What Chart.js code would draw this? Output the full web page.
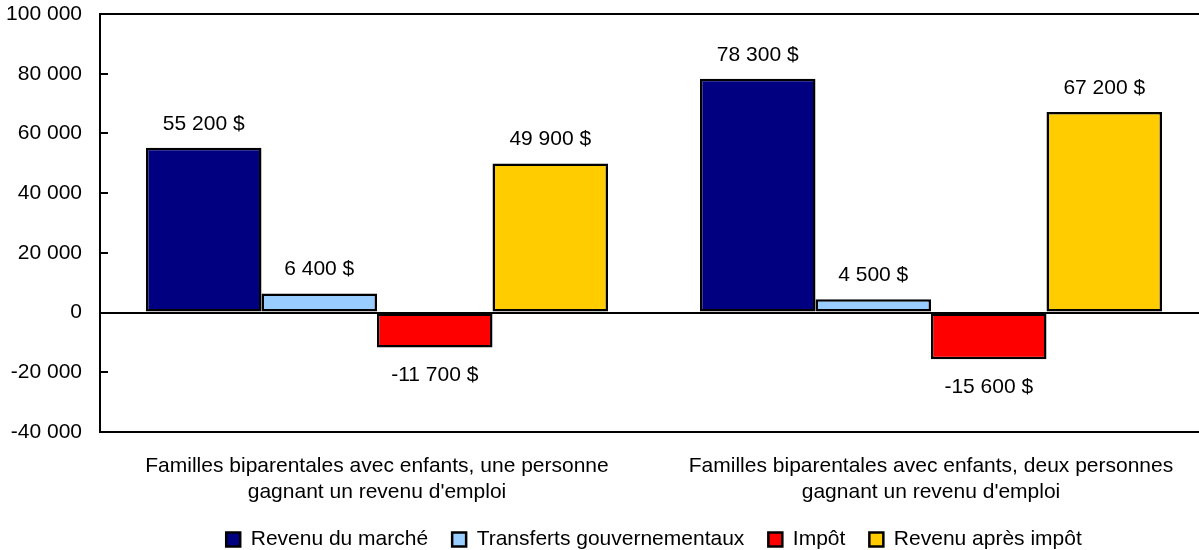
<!DOCTYPE html>
<html>
<head>
<meta charset="utf-8">
<script src="https://cdn.jsdelivr.net/npm/chart.js@4.4.1/dist/chart.umd.min.js"></script>
<style>
html,body{margin:0;padding:0;overflow:hidden;background:#fff;}
#wrap{width:1208px;height:550px;position:relative;}
</style>
</head>
<body>
<div id="wrap"><canvas id="c" width="1208" height="550"></canvas></div>
<script>
const categories = [
  ["Familles biparentales avec enfants, une personne", "gagnant un revenu d'emploi"],
  ["Familles biparentales avec enfants, deux personnes", "gagnant un revenu d'emploi"]
];
const seriesNames = ["Revenu du marché", "Transferts gouvernementaux", "Impôt", "Revenu après impôt"];
const revenuMarche = [55200, 78300];
const transferts = [6400, 4500];
const impot = [-11700, -15600];
const revenuApresImpot = [49900, 67200];
const seriesColors = ["#000080", "#99CCFF", "#FF0000", "#FFCC00"];
const yMin = -40000, yMax = 100000, yStep = 20000;

const FONT = "'Liberation Sans', Arial, sans-serif";
const FS = 21;

function grp(v){
  const s = String(Math.abs(v)).replace(/\B(?=(\d{3})+(?!\d))/g, " ");
  return (v < 0 ? "-" : "") + s;
}

const allSeries = [revenuMarche, transferts, impot, revenuApresImpot];

const labelPlugin = {
  id: 'valueLabels',
  afterDatasetsDraw(chart){
    const ctx = chart.ctx;
    ctx.save();
    ctx.font = FS + "px " + FONT;
    ctx.fillStyle = "#000";
    ctx.textAlign = "center";
    ctx.textBaseline = "middle";
    chart.data.datasets.forEach((ds, di) => {
      const meta = chart.getDatasetMeta(di);
      meta.data.forEach((bar, i) => {
        const v = ds.data[i];
        const txt = grp(v) + " $";
        const y = v >= 0 ? bar.y - 24 : bar.y + 28;
        ctx.fillText(txt, bar.x, y);
      });
    });
    ctx.restore();
  },
  afterDraw(chart){
    const ys = chart.scales.y;
    const ctx = chart.ctx;
    ctx.save();
    ctx.strokeStyle = "#000";
    ctx.lineWidth = 2;
    ys.ticks.forEach(t => {
      const py = Math.round(ys.getPixelForValue(t.value));
      ctx.beginPath();
      ctx.moveTo(chart.chartArea.left, py);
      ctx.lineTo(chart.chartArea.left + 8, py);
      ctx.stroke();
    });
    ctx.restore();
  }
};

new Chart(document.getElementById('c'), {
  type: 'bar',
  data: {
    labels: categories,
    datasets: allSeries.map((d, i) => ({
      label: seriesNames[i],
      data: d,
      backgroundColor: seriesColors[i],
      borderColor: "#000",
      borderWidth: 2.5,
      borderSkipped: false,
      barPercentage: 1,
      categoryPercentage: 0.834
    }))
  },
  options: {
    responsive: false,
    animation: false,
    devicePixelRatio: 1,
    layout: { padding: { top: 14, left: 0, right: 0, bottom: -10 } },
    plugins: {
      tooltip: { enabled: false },
      legend: {
        position: 'bottom',
        align: 'center',
        fullSize: false,
        labels: {
          font: { family: FONT, size: FS },
          color: "#000",
          boxWidth: 14,
          boxHeight: 14,
          padding: 24
        }
      }
    },
    scales: {
      x: {
        afterFit(scale){ scale.height = 73; },
        grid: { display: false, drawTicks: false },
        border: { display: true, color: "#000", width: 2 },
        ticks: {
          font: { family: FONT, size: FS, lineHeight: 1.2 },
          color: "#000",
          padding: 22,
          maxRotation: 0,
          autoSkip: false
        }
      },
      y: {
        min: yMin,
        max: yMax,
        afterFit(scale){ scale.width = 100; },
        grid: {
          drawTicks: true,
          tickLength: 18,
          tickColor: "rgba(0,0,0,0)",
          color: c => (c.tick && (c.tick.value === yMax || c.tick.value === 0)) ? "#000" : "rgba(0,0,0,0)",
          lineWidth: 2
        },
        border: { display: true, color: "#000", width: 2 },
        ticks: {
          stepSize: yStep,
          font: { family: FONT, size: FS },
          color: "#000",
          padding: 0,
          callback: v => grp(v)
        }
      }
    }
  },
  plugins: [labelPlugin]
});
</script>
</body>
</html>
